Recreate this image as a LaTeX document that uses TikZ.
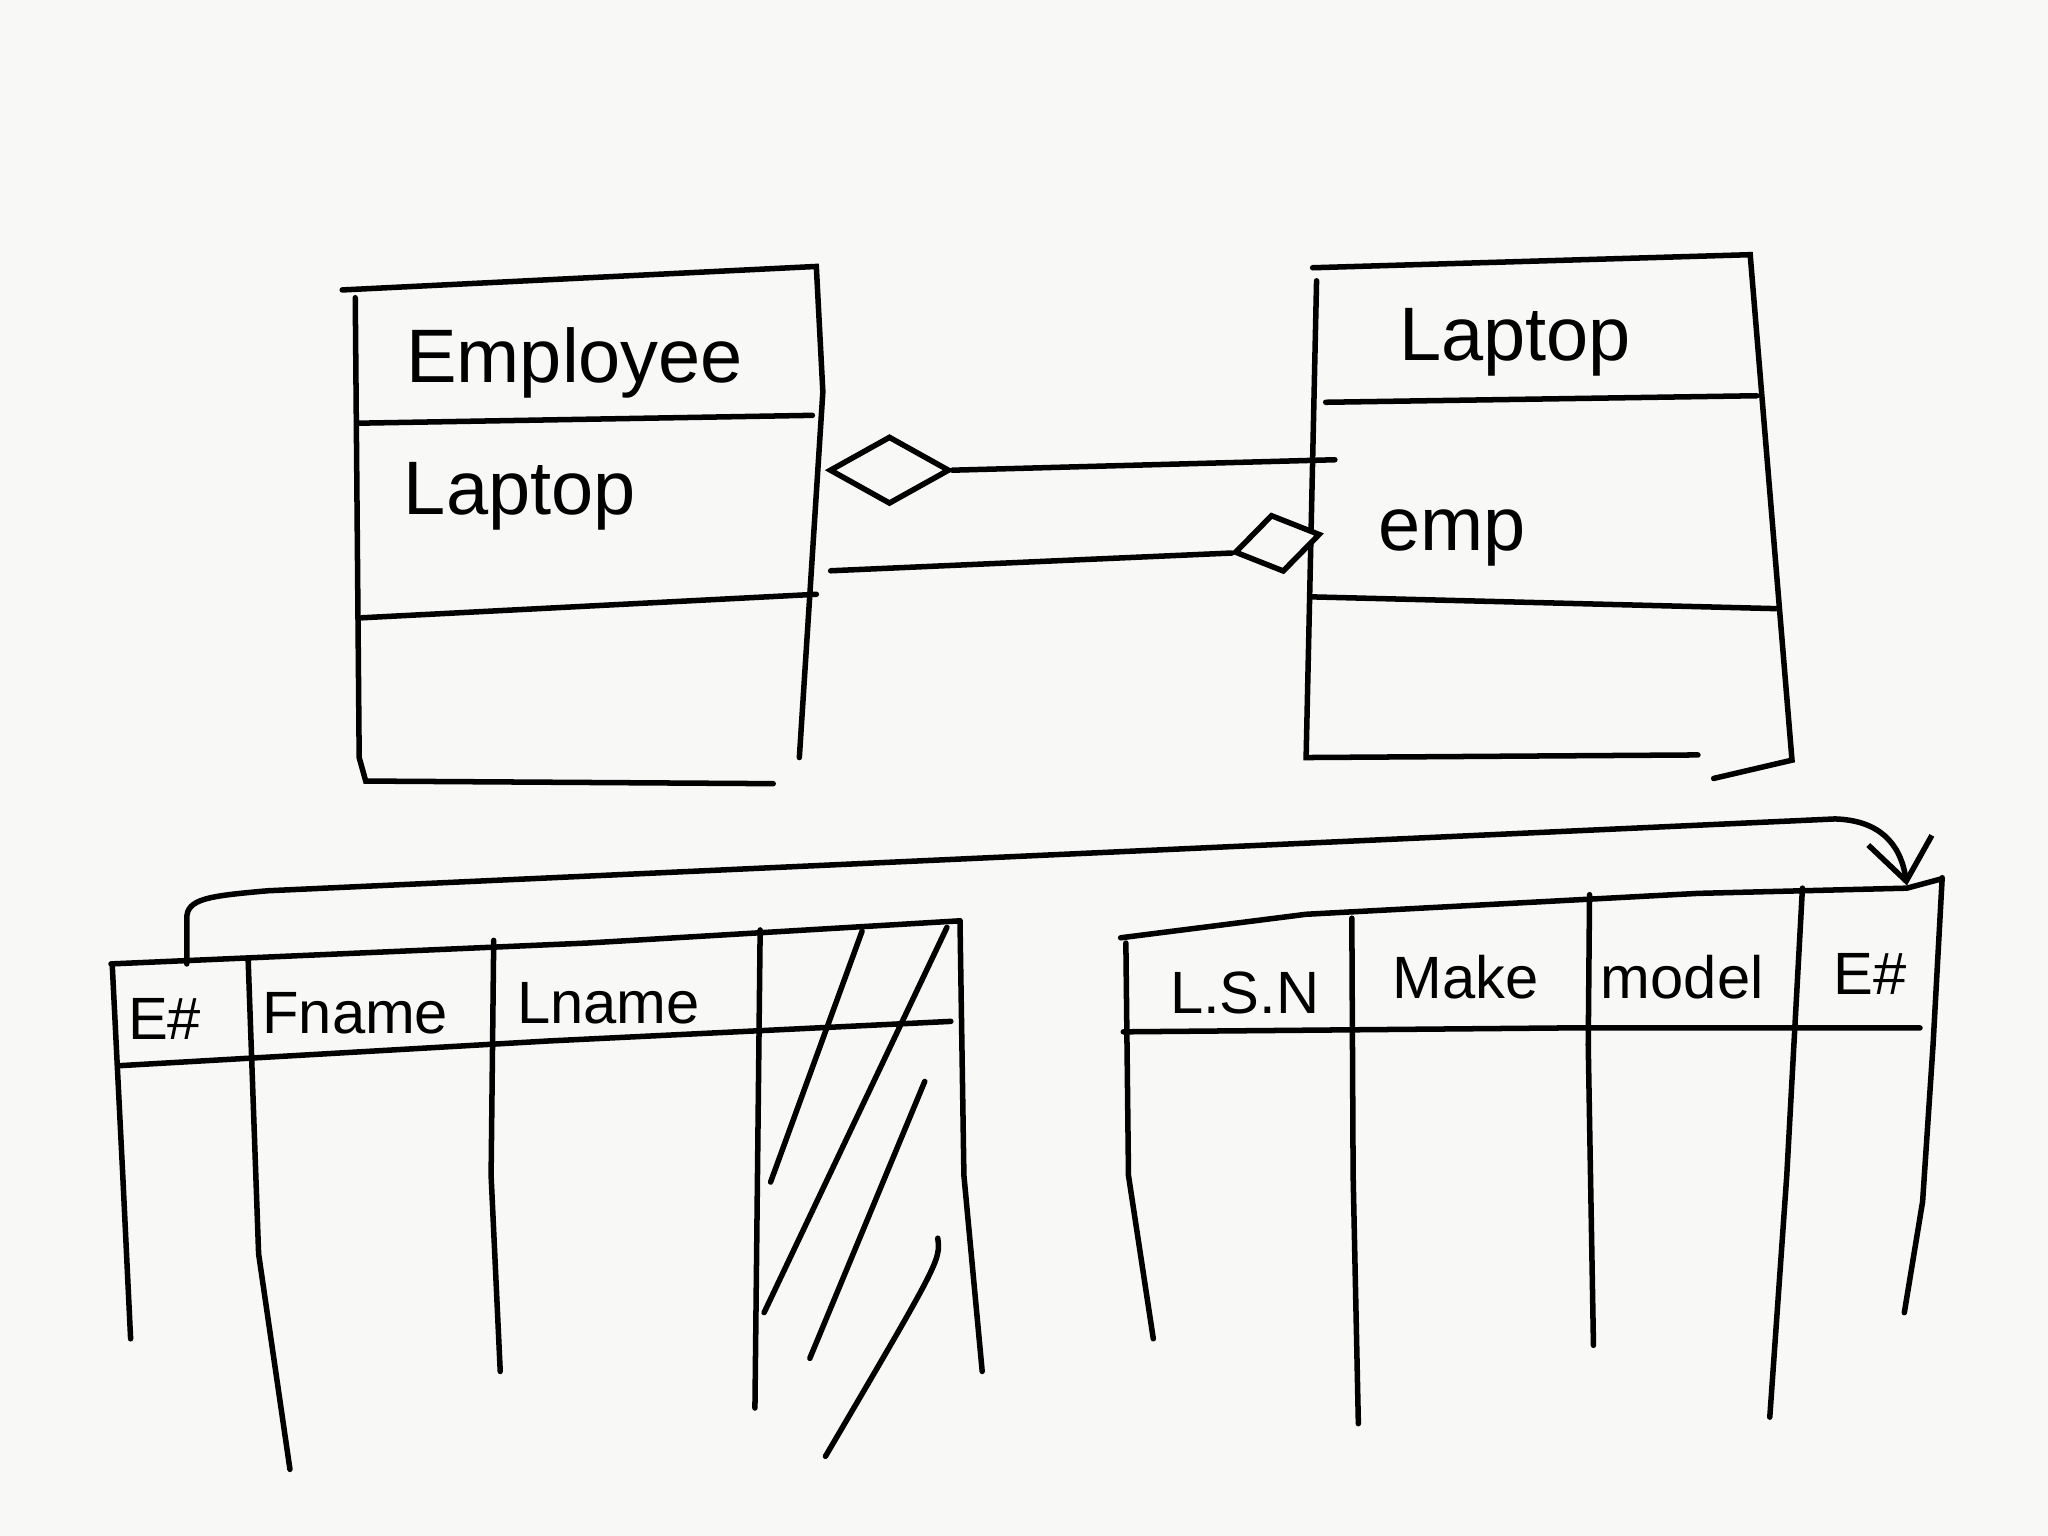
\documentclass[tikz,border=0pt]{standalone}
\usepackage{fontspec}
\setmainfont{Liberation Sans}
\usetikzlibrary{shapes.geometric,arrows.meta}
\definecolor{paper}{RGB}{248,248,247}
\begin{document}
\begin{tikzpicture}[x=0.01cm,y=-0.01cm,line width=1.2pt,line cap=round,
	title/.style={font=\fontsize{16.5}{20}\selectfont},
	head/.style={font=\fontsize{13}{16}\selectfont},
	agg/.style={draw,diamond,inner sep=0pt,fill=paper}]
\fill[paper] (0,0) rectangle (1568,1176);
\useasboundingbox (0,0) rectangle (1568,1176);

% class Employee
\draw (262,222) -- (625,204) -- (630,300) -- (612,580);
\draw (272,228) -- (275,580) -- (280,598) -- (592,600);
\draw (275,324) -- (622,318);
\draw (277,473) -- (625,455);
\node[title] (empname) at (440,278) {Employee};
\node[title] (empattr) at (398,380) {Laptop};

% class Laptop
\draw (1005,205) -- (1340,195) -- (1372,582) -- (1312,596);
\draw (1008,215) -- (1000,580) -- (1300,578);
\draw (1015,308) -- (1345,303);
\draw (1005,457) -- (1360,466);
\node[title] (lapname) at (1160,262) {Laptop};
\node[title] (lapattr) at (1112,412) {emp};

% aggregation ends
\node[agg,minimum width=0.92cm,minimum height=0.52cm] (aggemp) at (681,360) {};
\node[agg,minimum width=0.67cm,minimum height=0.45cm,rotate=12] (agglap) at (978,416) {};
\coordinate (lapside) at (1022,352);
\coordinate (empside) at (636,437);
\path
(aggemp.east) edge (lapside)
(empside) edge (agglap.west);

% table Employee
\draw (85,738) -- (450,722) -- (735,705);
\draw (90,816) -- (420,797) -- (728,782);
\draw (86,740) -- (94,900) -- (100,1025);
\draw (190,735) -- (198,960) -- (222,1125);
\draw (378,720) -- (376,900) -- (383,1050);
\draw (582,712) -- (578,1078);
\draw (735,705) -- (738,900) -- (752,1050);
\draw (660,713) -- (590,905);
\draw (725,710) -- (585,1005);
\draw (708,828) -- (620,1040);
\draw (718,948) .. controls (720,965) .. (632,1115);
\node[head] (ekey) at (126,780) {E\#};
\node[head] (fname) at (272,776) {Fname};
\node[head] (lname) at (466,768) {Lname};

% table Laptop
\draw (858,718) -- (1000,700) -- (1300,684) -- (1460,680) -- (1486,673);
\draw (860,790) -- (1200,787) -- (1470,787);
\draw (862,722) -- (864,900) -- (883,1025);
\draw (1035,703) -- (1036,900) -- (1040,1090);
\draw (1217,685) -- (1216,800) -- (1220,1030);
\draw (1380,680) -- (1368,900) -- (1355,1085);
\draw (1487,672) -- (1480,800) -- (1472,920) -- (1458,1005);
\node[head] (lsn) at (953,760) {L.S.N};
\node[head] (make) at (1122,748) {Make};
\node[head] (model) at (1288,748) {model};
\node[head] (lkey) at (1432,746) {E\#};

% foreign key
\coordinate (ekeytop) at (143,738);
\coordinate (lkeytop) at (1460,678);
\draw[-{Straight Barb[length=9pt,width=14pt]}] (ekeytop) -- (143,703)
	.. controls (143,688) and (160,686) .. (205,682)
	-- (1405,627) .. controls (1438,628) and (1455,645) .. (lkeytop);
\end{tikzpicture}
\end{document}
